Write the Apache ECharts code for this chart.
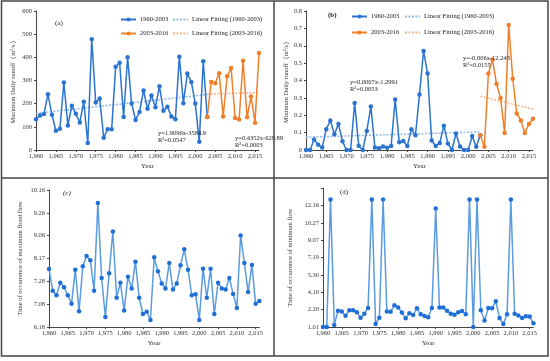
<!DOCTYPE html>
<html><head><meta charset="utf-8">
<script src="https://cdn.jsdelivr.net/npm/echarts@6/dist/echarts.min.js"></script>
<style>html,body{margin:0;padding:0;background:#fff}#c{width:550px;height:361px}</style>
</head><body><div id="c"></div>
<script>
const years = [1960,1961,1962,1963,1964,1965,1966,1967,1968,1969,1970,1971,1972,1973,1974,1975,1976,1977,1978,1979,1980,1981,1982,1983,1984,1985,1986,1987,1988,1989,1990,1991,1992,1993,1994,1995,1996,1997,1998,1999,2000,2001,2002,2003,2004,2005,2006,2007,2008,2009,2010,2011,2012,2013,2014,2015,2016];
const yearsEarly = years.slice(0, 44);   // 1960-2003
const yearsLate = years.slice(43);       // 2003-2016

const maxEarly = [133,149,155,241,152,83,92,291,106,191,156,119,208,30,478,205,222,53,90,90,359,377,142,400,201,130,164,257,178,235,185,275,169,187,145,133,403,202,330,294,201,36,383,142];
const maxLate = [142,293,288,331,145,318,354,138,132,385,141,231,118,419];
const maxFitEarly = [[1960,158],[2003,240]];
const maxFitLate = [[2003,242],[2016,247.5]];

const minEarly = [0,0,0.06,0.03,0.015,0.12,0.17,0.09,0.15,0.05,0,0,0.27,0.025,0,0.11,0.25,0.015,0.01,0.02,0.013,0.023,0.29,0.045,0.052,0.023,0.12,0.085,0.32,0.57,0.44,0.055,0.023,0.04,0.14,0.038,0,0.095,0.02,0,0,0.08,0.018,0.085];
const minLate = [0.085,0.018,0.44,0.52,0.38,0.30,0.098,0.72,0.41,0.21,0.17,0.098,0.15,0.18];
const minFitEarly = [[1960,0.074],[2003,0.104]];
const minFitLate = [[2003,0.31],[2016.5,0.232]];

// panel (c): positions on the evenly spaced tick scale (index of tick label)
const floodTickLabels = ['6.18','7.08','7.28','8.17','9.06','9.26','10.16'];
const floodTime = [2.54,1.59,1.39,1.94,1.74,1.39,1.02,2.51,0.69,2.66,3.11,2.92,1.59,5.43,2.15,0.44,2.35,4.18,1.28,1.94,0.72,2.20,1.69,2.86,1.28,0.57,0.67,0.31,3.05,2.44,1.90,1.69,2.80,1.64,1.90,2.70,3.40,2.51,1.39,1.43,0.31,2.55,1.28,2.55,0.57,1.94,1.69,1.64,2.15,1.45,0.83,4.01,2.80,1.53,2.72,1.02,1.14];

// panel (d)
const minFlowTickLabels = ['1.01','2.20','4.10','5.30','7.19','9.07','10.27','12.16'];
const minFlowTime = [0,0,7.35,0.12,0.94,0.90,0.65,0.96,0.96,0.85,0.54,0.77,1.10,7.35,0.17,0.54,7.35,0.90,0.88,1.25,1.13,0.83,0.50,0.79,0.69,1.08,0.73,0.63,0.56,1.10,6.83,1.12,1.12,0.94,0.77,0.71,0.85,0.92,0.73,7.35,0,7.35,0.96,0.38,1.10,1.08,1.48,0.52,0.17,0.73,7.35,0.77,0.67,0.52,0.62,0.60,0.21];

const pair = (xs, ys) => xs.map((x, i) => [x, ys[i]]);

const FONT = 'Liberation Serif';
const BLUE = '#2a74cf';
const ORANGE = '#f07f2a';
const BLUE_FIT = '#8fb8ec';
const ORANGE_FIT = '#f6b487';
const txt = {fontFamily: FONT, fontSize: 6.5, color: '#333'};

function xAx(gi) {
  return {
    gridIndex: gi, type: 'value', min: 1960, max: 2016, interval: 5,
    name: 'Year', nameLocation: 'middle', nameGap: 13,
    nameTextStyle: {fontFamily: FONT, fontSize: 7, color: '#333'},
    axisLine: {onZero: false, lineStyle: {color: '#444', width: 1}},
    axisTick: {show: true, length: 2, lineStyle: {color: '#444'}},
    axisLabel: Object.assign({margin: 3, showMaxLabel: false}, txt),
    splitLine: {show: false}
  };
}
function yAx(gi, name, gap, extra) {
  return Object.assign({
    gridIndex: gi, type: 'value', name: name, nameLocation: 'middle', nameGap: gap,
    nameTextStyle: {fontFamily: FONT, fontSize: 6.5, color: '#333'},
    axisLine: {show: true, lineStyle: {color: '#444', width: 1}},
    axisTick: {show: true, length: 2, lineStyle: {color: '#444'}},
    axisLabel: Object.assign({margin: 4}, txt),
    splitLine: {show: false}
  }, extra);
}
function lineSeries(name, gi, data, color, lineColor) {
  return {
    name: name, type: 'line', xAxisIndex: gi, yAxisIndex: gi, data: data,
    symbol: 'circle', symbolSize: 4.5, showSymbol: true,
    itemStyle: {color: color}, lineStyle: {color: lineColor || color, width: 1.5},
    z: 3, animation: false
  };
}
function fitSeries(name, gi, data, color) {
  return {
    name: name, type: 'line', xAxisIndex: gi, yAxisIndex: gi, data: data,
    symbol: 'none', itemStyle: {color: color},
    lineStyle: {color: color, width: 1.5, type: [2, 1.5]}, z: 2, animation: false
  };
}
function legend(data, left, top, gap) {
  return {
    data: data, left: left, top: top, orient: 'vertical', itemGap: gap,
    itemWidth: 15, itemHeight: 5, padding: 0, selectedMode: false,
    textStyle: {fontFamily: FONT, fontSize: 6.5, color: '#222', padding: [0, 0, 0, -1]}
  };
}
const fitLegendItems = ['Linear Fitting (1960-2003)', 'Linear Fitting (2003-2016)']
  .map(n => ({name: n, itemStyle: {opacity: 0}}));
function label(text, x, y, extra) {
  return {type: 'text', left: x, top: y, z: 10, style: Object.assign({text: text, font: '6.5px ' + FONT, fill: '#222', textAlign: 'center'}, extra || {})};
}

const chart = echarts.init(document.getElementById('c'), null, {renderer: 'canvas'});
chart.setOption({
  backgroundColor: '#fff',
  animation: false,
  grid: [
    {left: 36, top: 11, width: 223, height: 139},
    {left: 306, top: 11, width: 227, height: 139},
    {left: 49, top: 190, width: 210.4, height: 137},
    {left: 323, top: 188.3, width: 210.4, height: 138.7}
  ],
  xAxis: [xAx(0), xAx(1), xAx(2), xAx(3)],
  yAxis: [
    yAx(0, 'Maximum Daily runoff（m³/s）', 19, {min: 0, max: 600, interval: 100}),
    yAx(1, 'Minimum Daily runoff（m³/s）', 15, {min: 0, max: 0.8, interval: 0.1}),
    yAx(2, 'Time of occurrence of maximum flood flow', 25, {min: 0, max: 6, interval: 1,
      axisLabel: Object.assign({margin: 4, formatter: v => floodTickLabels[v] || ''}, txt)}),
    yAx(3, 'Time of occurrence of minimum flow', 29, {min: 0, max: 8, interval: 1,
      axisLabel: Object.assign({margin: 4, formatter: v => minFlowTickLabels[v] || ''}, txt)})
  ],
  legend: [
    legend(['1960-2003', '2003-2016'], 120, 16, 7),
    legend(fitLegendItems, 172, 16, 7),
    legend(['1960-2003', '2003-2016'], 351, 13, 9),
    legend(fitLegendItems, 404, 13, 9)
  ],
  series: [
    fitSeries('Linear Fitting (1960-2003)', 0, maxFitEarly, BLUE_FIT),
    fitSeries('Linear Fitting (2003-2016)', 0, maxFitLate, ORANGE_FIT),
    lineSeries('1960-2003', 0, pair(yearsEarly, maxEarly), BLUE),
    lineSeries('2003-2016', 0, pair(yearsLate, maxLate), ORANGE),
    fitSeries('Linear Fitting (1960-2003)', 1, minFitEarly, BLUE_FIT),
    fitSeries('Linear Fitting (2003-2016)', 1, minFitLate, ORANGE_FIT),
    lineSeries('1960-2003', 1, pair(yearsEarly, minEarly), BLUE),
    lineSeries('2003-2016', 1, pair(yearsLate, minLate), ORANGE),
    lineSeries('flood', 2, pair(years, floodTime), '#1f6fd6', '#5b9be0'),
    lineSeries('minflow', 3, pair(years, minFlowTime), '#1f6fd6', '#5b9be0')
  ],
  graphic: [
    {type: 'rect', shape: {x: 1.5, y: 1, width: 546.5, height: 355}, style: {fill: 'none', stroke: '#444', lineWidth: 1.5}, z: 20},
    {type: 'line', shape: {x1: 274, y1: 1, x2: 274, y2: 356}, style: {stroke: '#444', lineWidth: 1.5}, z: 20},
    {type: 'line', shape: {x1: 1.5, y1: 178, x2: 548, y2: 178}, style: {stroke: '#444', lineWidth: 1.5}, z: 20},
    label('(a)', 55, 20, {font: '7px ' + FONT}),
    label('(b)', 328, 12, {font: 'bold 7px ' + FONT}),
    label('(c)', 63, 190, {font: 'italic 7px ' + FONT}),
    label('(d)', 340, 189, {font: '7px ' + FONT}),
    label('y=1.9096x-3584.9', 158, 130),
    label('R²=0.0547', 158, 136.5),
    label('y=0.4352x-629.89', 235, 135),
    label('R²=0.0003', 235, 141.5),
    label('y=0.0007x-1.2991', 350, 79),
    label('R²=0.0053', 350, 85.5),
    label('y=-0.006x-12.243', 463, 55),
    label('R²=0.0155', 463, 61.5)
  ]
});
</script></body></html>
